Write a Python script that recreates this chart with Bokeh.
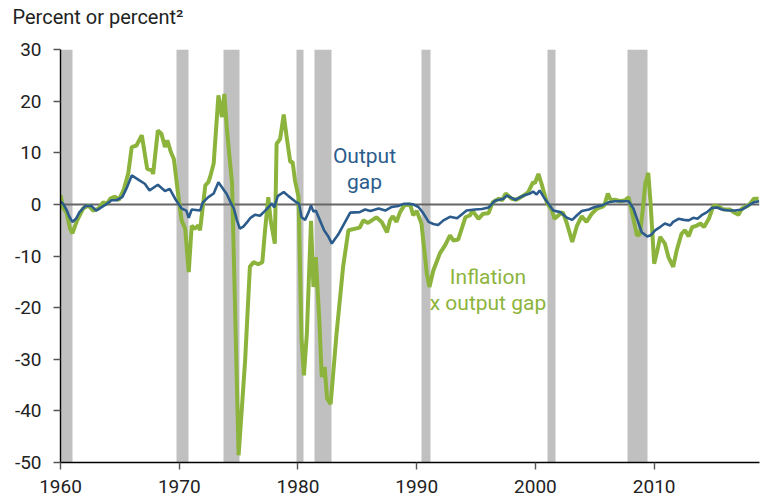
from bokeh.plotting import figure
from bokeh.models import FixedTicker, Title
from bokeh.core.properties import value
from bokeh.embed import file_html
from bokeh.resources import INLINE

# ---- data ----
gap_year = [1960.0, 1960.25, 1960.5, 1960.75, 1961.0, 1961.3, 1961.6, 1962.1, 1962.6, 1963.0,
            1963.5, 1963.9, 1964.3, 1964.7, 1965.2, 1965.6, 1966.0, 1966.55, 1967.1, 1967.5,
            1968.2, 1968.8, 1969.2, 1969.65, 1970.2, 1970.6, 1970.8, 1971.05, 1971.75, 1972.0,
            1972.45, 1972.9, 1973.3, 1973.7, 1974.0, 1974.3, 1974.6, 1974.85, 1975.1, 1975.4,
            1975.7, 1976.0, 1976.4, 1976.8, 1977.2, 1977.5, 1977.8, 1978.0, 1978.3, 1978.8,
            1979.2, 1979.75, 1980.1, 1980.3, 1980.6, 1980.9, 1981.1, 1981.3, 1981.5, 1981.85,
            1982.2, 1982.55, 1982.85, 1983.4, 1983.95, 1984.4, 1985.2, 1985.65, 1986.1, 1986.8,
            1987.35, 1987.9, 1988.45, 1988.9, 1989.3, 1989.7, 1990.15, 1990.55, 1991.0, 1991.4,
            1991.8, 1992.25, 1992.8, 1993.4, 1994.2, 1994.9, 1995.5, 1996.05, 1996.6, 1997.3,
            1997.6, 1998.3, 1999.0, 1999.55, 1999.8, 2000.1, 2000.35, 2000.7, 2001.1, 2001.5,
            2002.1, 2002.65, 2003.1, 2003.5, 2003.9, 2004.5, 2005.0, 2005.6, 2006.15, 2006.7,
            2007.4, 2007.85, 2008.25, 2008.6, 2008.95, 2009.4, 2009.7, 2010.1, 2010.5, 2010.9,
            2011.35, 2011.6, 2012.05, 2012.5, 2012.9, 2013.3, 2013.65, 2014.0, 2014.45, 2014.85,
            2015.3, 2015.7, 2016.25, 2016.8, 2017.4, 2017.95, 2018.4, 2018.85]
gap_val = [0.6, 0.0, -1.0, -2.4, -3.4, -2.8, -1.5, -0.3, -0.3, -1.2,
           -0.5, 0.1, 0.8, 0.8, 1.4, 3.3, 5.6, 4.8, 4.0, 2.7,
           3.8, 2.6, 3.0, 1.1, -0.8, -1.2, -2.6, -1.0, -1.2, 0.4,
           1.4, 2.1, 4.3, 3.0, 2.0, 0.5, -0.8, -3.0, -4.7, -4.3,
           -3.5, -2.6, -2.0, -2.2, -1.3, -0.6, 0.2, -0.6, 1.6, 2.4,
           1.6, 0.6, 0.1, -2.5, -3.0, -1.5, -0.2, -1.4, -1.2, -3.1,
           -5.0, -6.2, -7.6, -5.8, -3.5, -1.6, -1.5, -1.0, -1.3, -0.8,
           -1.2, -0.5, -0.3, 0.1, 0.1, 0.0, -0.5, -1.7, -3.4, -3.8,
           -4.0, -3.1, -2.4, -2.7, -1.2, -1.0, -0.9, -0.6, 0.7, 1.1,
           1.7, 0.9, 1.7, 2.1, 2.5, 1.9, 2.7, 1.4, 0.1, -1.2,
           -1.5, -2.6, -3.0, -2.1, -1.3, -1.0, -0.5, -0.2, 0.4, 0.6,
           0.6, 0.6, -0.8, -3.1, -5.4, -6.2, -6.0, -5.0, -4.4, -3.7,
           -4.1, -3.4, -2.8, -3.0, -3.1, -2.6, -2.8, -2.1, -1.5, -0.7,
           -0.6, -1.0, -1.2, -1.2, -1.0, -0.2, 0.4, 0.6]

infl_year = [1960.0, 1960.25, 1960.5, 1960.8, 1961.0, 1961.4, 1961.9, 1962.35, 1962.75, 1963.2,
             1963.6, 1963.9, 1964.2, 1964.6, 1964.9, 1965.3, 1965.7, 1966.0, 1966.4, 1966.85,
             1967.3, 1967.7, 1967.8, 1968.2, 1968.5, 1968.8, 1969.0, 1969.3, 1969.55, 1969.9,
             1970.2, 1970.5, 1970.8, 1971.05, 1971.3, 1971.6, 1971.75, 1972.2, 1972.45, 1972.6,
             1972.9, 1973.3, 1973.6, 1973.8, 1974.0, 1974.2, 1974.45, 1975.0, 1975.55, 1975.95,
             1976.25, 1976.65, 1977.0, 1977.2, 1977.5, 1977.7, 1978.05, 1978.2, 1978.5, 1978.8,
             1979.05, 1979.35, 1979.55, 1979.75, 1980.05, 1980.3, 1980.5, 1980.75, 1981.1, 1981.3,
             1981.5, 1981.8, 1982.0, 1982.25, 1982.45, 1982.75, 1983.25, 1983.8, 1984.25, 1985.2,
             1985.5, 1985.9, 1986.6, 1987.05, 1987.5, 1987.75, 1988.0, 1988.3, 1988.6, 1988.95,
             1989.45, 1989.7, 1990.0, 1990.4, 1990.85, 1991.07, 1991.4, 1991.95, 1992.4, 1992.8,
             1993.1, 1993.5, 1994.1, 1994.5, 1994.7, 1995.2, 1995.6, 1996.05, 1996.4, 1996.9,
             1997.2, 1997.5, 1998.0, 1998.4, 1999.0, 1999.4, 1999.8, 1999.95, 2000.25, 2000.55,
             2000.95, 2001.4, 2001.6, 2001.95, 2002.3, 2002.65, 2003.1, 2003.5, 2003.9, 2004.3,
             2004.75, 2005.2, 2005.6, 2005.8, 2006.1, 2006.35, 2006.7, 2007.15, 2007.55, 2007.85,
             2008.1, 2008.4, 2008.55, 2008.8, 2009.05, 2009.25, 2009.5, 2009.7, 2010.0, 2010.3,
             2010.5, 2010.9, 2011.2, 2011.6, 2011.9, 2012.3, 2012.6, 2012.9, 2013.2, 2013.6,
             2013.9, 2014.2, 2014.6, 2015.0, 2015.4, 2015.85, 2016.4, 2016.7, 2017.1, 2017.4,
             2017.95, 2018.4, 2018.8]
infl_val = [1.8, -0.8, -1.5, -4.7, -5.6, -3.1, -0.8, -0.2, -1.2, -0.8,
            0.4, 0.1, 1.1, 1.5, 0.8, 2.7, 5.9, 11.1, 11.4, 13.4,
            6.9, 6.6, 5.9, 14.3, 13.7, 11.1, 12.4, 10.1, 8.8, 2.1,
            -3.1, -4.7, -13.1, -4.1, -4.7, -4.1, -5.0, 3.7, 4.3, 5.3,
            7.9, 21.1, 16.9, 21.4, 15.0, 10.0, 4.0, -48.6, -30.2, -12.1,
            -11.2, -11.6, -11.2, -5.7, 1.4, -3.1, -7.6, 11.7, 12.7, 17.4,
            13.0, 8.2, 8.2, 4.6, 1.4, -26.0, -33.1, -25.0, -3.2, -16.0,
            -10.2, -22.5, -33.4, -31.5, -37.6, -38.7, -25.0, -12.1, -5.0, -4.5,
            -3.1, -3.6, -2.5, -3.4, -5.4, -3.1, -2.3, -3.4, -1.5, -0.2,
            0.0, -2.1, -1.3, -3.7, -13.4, -16.0, -12.8, -9.5, -7.9, -6.0,
            -7.0, -6.8, -2.5, -2.1, -1.2, -2.8, -1.8, -1.7, 0.4, 1.1,
            0.8, 2.1, 1.1, 0.9, 1.7, 2.4, 4.3, 4.1, 5.9, 3.7,
            0.4, -1.2, -2.8, -2.1, -1.5, -3.7, -7.3, -4.1, -2.3, -3.4,
            -1.8, -0.8, -0.5, -0.2, 2.1, 0.8, 0.9, 0.6, 0.8, 1.4,
            -1.2, -4.4, -6.0, -5.8, -0.8, 4.0, 6.1, 0.1, -11.5, -8.6,
            -6.3, -7.6, -10.2, -12.1, -8.9, -5.7, -5.0, -6.2, -4.4, -4.1,
            -3.7, -4.4, -2.8, -0.2, -0.4, -1.0, -1.0, -1.5, -2.0, -0.8,
            -0.2, 1.1, 1.1]

rec_start = [1960.0, 1969.75, 1973.7, 1979.85, 1981.35, 1990.37, 2001.0, 2007.73]
rec_end = [1961.0, 1970.75, 1975.1, 1980.45, 1982.8, 1991.12, 2001.72, 2009.4]

x_ticks = [1960, 1970, 1980, 1990, 2000, 2010]
y_ticks = [-50, -40, -30, -20, -10, 0, 10, 20, 30]

title_text = "Percent or percent\u00b2"
label_text = ["Output\ngap", "Inflation\nx output gap"]
label_x = [1985.6, 1996.0]
label_y = [6.9, -16.6]

BLUE = "#2b5c8c"
GREEN = "#8cb43c"
FONT = "Roboto"

p = figure(width=762, height=504, x_range=(1960, 2018.87), y_range=(-50, 30),
           output_backend="svg", toolbar_location=None,
           min_border_left=60, min_border_right=3, min_border_top=49, min_border_bottom=42)
p.outline_line_color = None
p.xgrid.visible = False
p.ygrid.visible = False
p.background_fill_color = "white"
p.border_fill_color = "white"

# the built-in title (outermost)
p.title.text = title_text
p.title.align = "left"
p.title.offset = -48
p.title.standoff = 0
p.title.text_font = FONT
p.title.text_font_size = "20px"
p.title.text_font_style = "normal"
p.title.text_color = "#222222"

# blank spacer between the title and the frame
p.add_layout(Title(text=" ", standoff=0, text_font=FONT, text_font_size="16px"), "above")

# recession shading
p.vstrip(x0=rec_start, x1=rec_end, fill_color="#c0c0c0", line_color=None)

# zero line
p.hspan(y=[0], line_color="#666666", line_width=2)

# series
p.line(infl_year, infl_val, line_color=GREEN, line_width=4)
p.line(gap_year, gap_val, line_color=BLUE, line_width=2.6)

# labels
p.text(x=[label_x[0]], y=[label_y[0]], text=[label_text[0]], text_color=BLUE,
       text_font=value(FONT), text_font_size="21px", text_align="center",
       text_baseline="middle", text_line_height=1.1)
p.text(x=[label_x[1]], y=[label_y[1]], text=[label_text[1]], text_color=GREEN,
       text_font=value(FONT), text_font_size="21px", text_align="center",
       text_baseline="middle", text_line_height=1.1)

# axes
for ax in (p.xaxis[0], p.yaxis[0]):
    ax.axis_line_color = "black"
    ax.axis_line_width = 1.4
    ax.major_tick_line_color = "#555555"
    ax.major_tick_line_width = 1.4
    ax.major_tick_in = 0
    ax.major_tick_out = 7
    ax.minor_tick_line_color = None
    ax.major_label_text_font = FONT
    ax.major_label_text_font_size = "19px"
    ax.major_label_text_color = "#222222"

p.xaxis[0].ticker = FixedTicker(ticks=x_ticks)
p.yaxis[0].ticker = FixedTicker(ticks=y_ticks)
p.xaxis[0].major_label_overrides = {t: str(t) for t in x_ticks}
p.yaxis[0].major_label_overrides = {t: str(t) for t in y_ticks}
p.xaxis[0].major_label_standoff = 10
p.yaxis[0].major_label_standoff = 12

open("out.html", "w").write(file_html(p, INLINE))
